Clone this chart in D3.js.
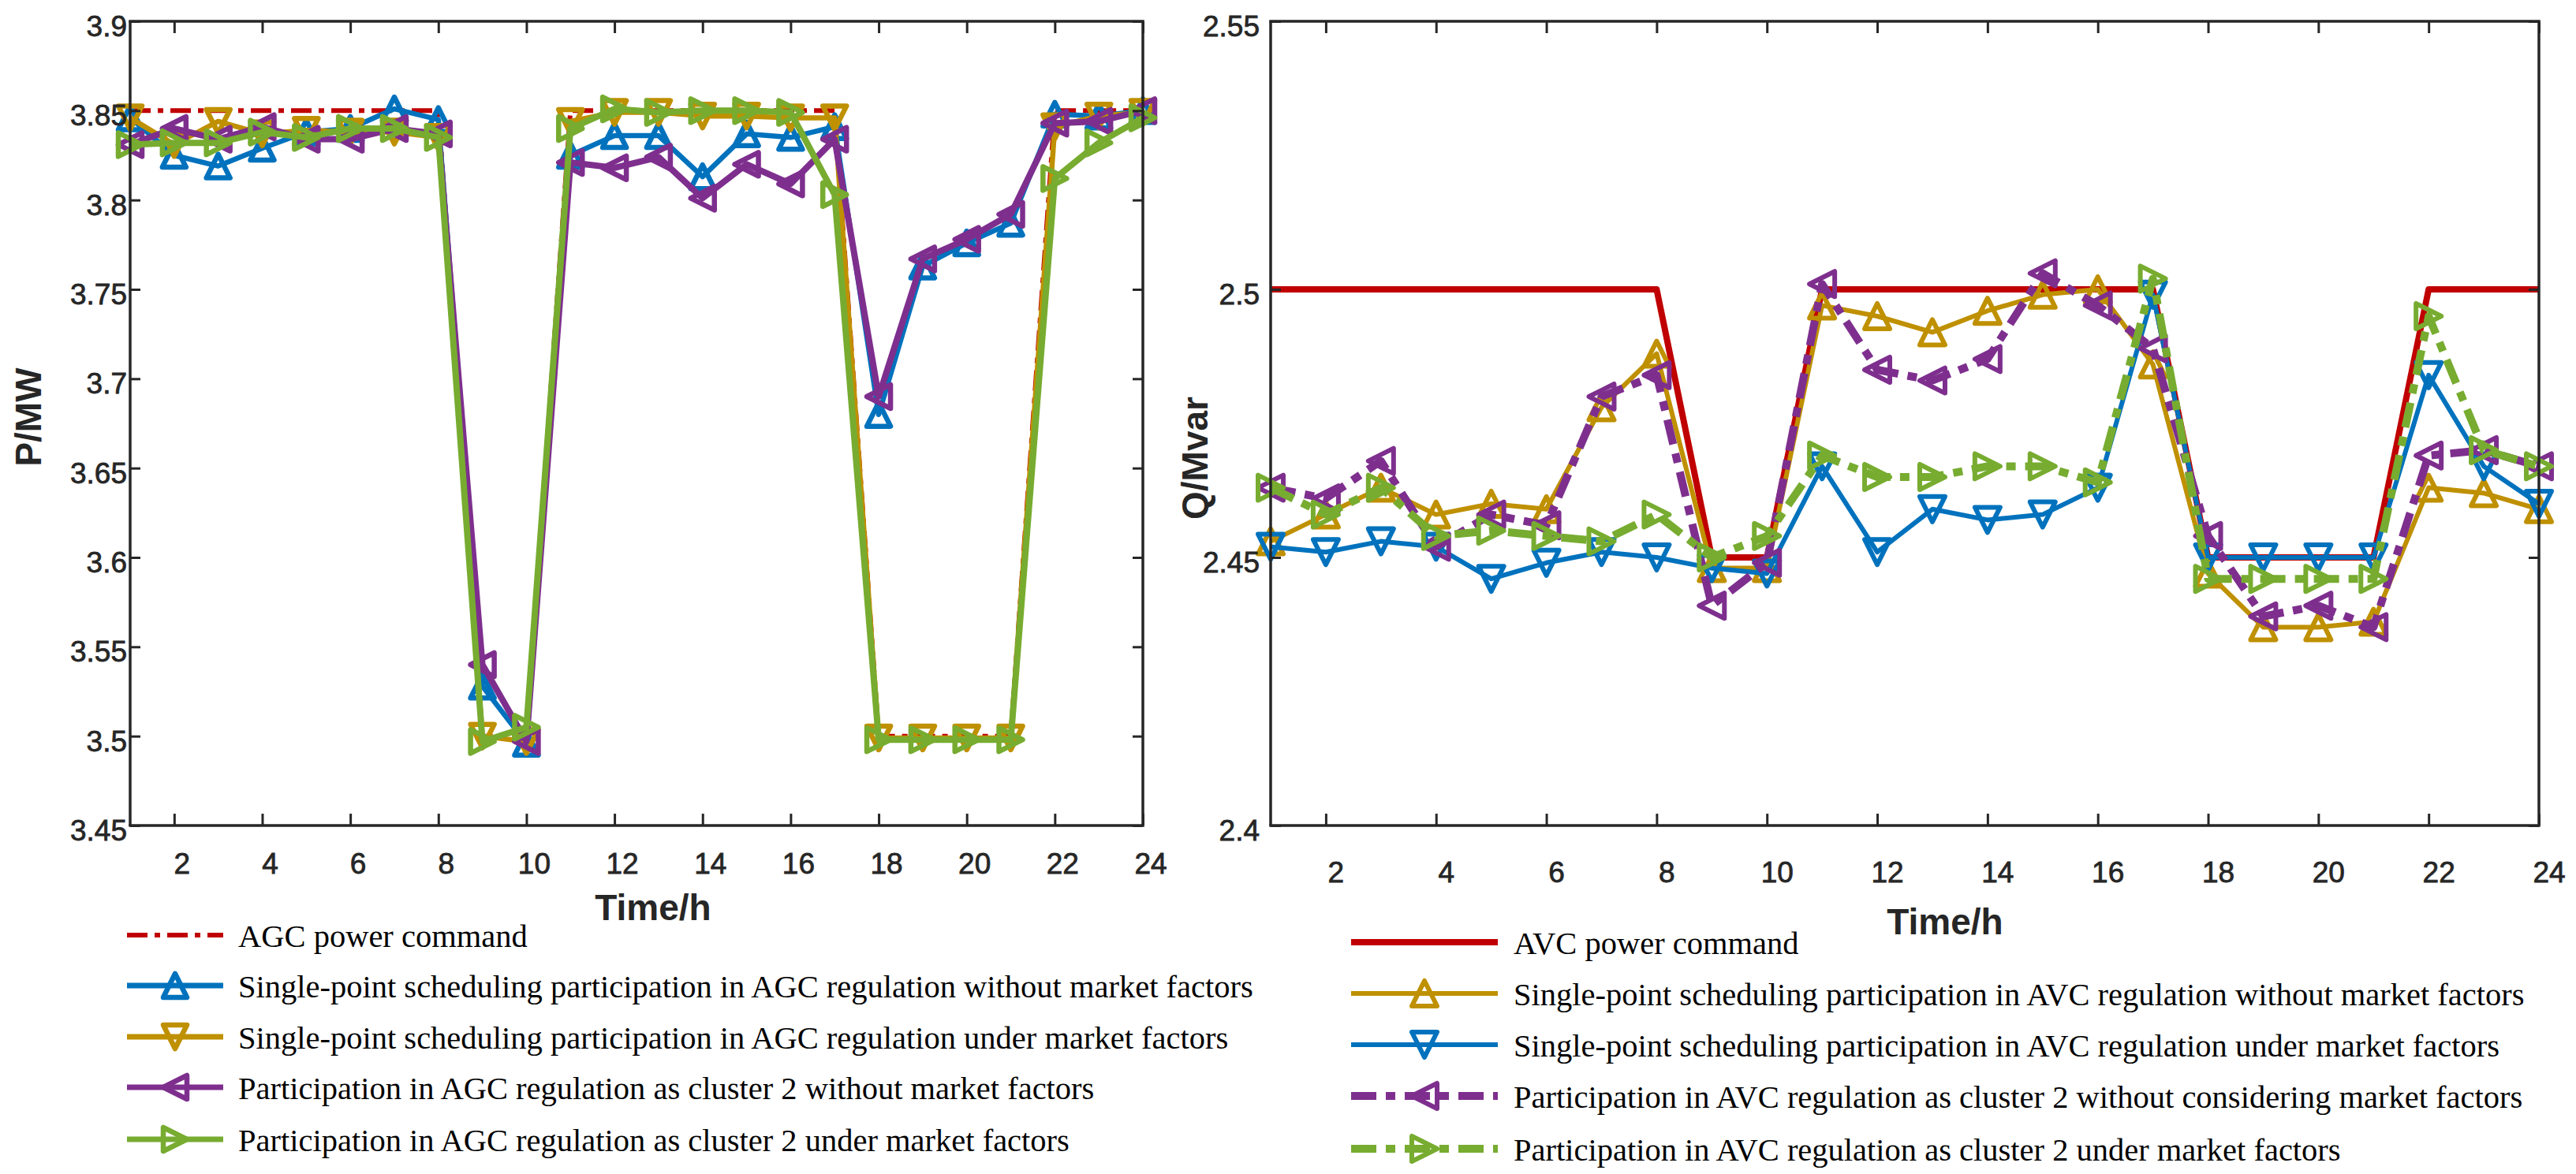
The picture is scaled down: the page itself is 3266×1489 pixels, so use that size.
<!DOCTYPE html>
<html>
<head>
<meta charset="utf-8">
<script src="https://cdn.jsdelivr.net/npm/d3@7"></script>
<style>
  html, body { margin: 0; padding: 0; background: #fff; }
  svg { display: block; }
</style>
</head>
<body>
<svg id="chart" width="3266" height="1489"></svg>
<script>
// ---------------- DATA ----------------
const hours = [1,2,3,4,5,6,7,8,9,10,11,12,13,14,15,16,17,18,19,20,21,22,23,24];
const xTicks = [2,4,6,8,10,12,14,16,18,20,22,24];

const pTicks = [3.45,3.5,3.55,3.6,3.65,3.7,3.75,3.8,3.85,3.9];
const pTickLabels = ["3.45","3.5","3.55","3.6","3.65","3.7","3.75","3.8","3.85","3.9"];
const qTicks = [2.4,2.45,2.5,2.55];
const qTickLabels = ["2.4","2.45","2.5","2.55"];

// Left chart (P/MW)
const agcCommand = [3.85,3.85,3.85,3.85,3.85,3.85,3.85,3.85,3.5,3.5,3.85,3.85,3.85,3.85,3.85,3.85,3.85,3.5,3.5,3.5,3.5,3.85,3.85,3.85];
const agcSingleNoMarket = [3.846,3.825,3.819,3.829,3.838,3.840,3.851,3.845,3.528,3.496,3.825,3.836,3.836,3.813,3.837,3.835,3.841,3.680,3.763,3.776,3.787,3.848,3.847,3.850];
const agcSingleMarket = [3.846,3.831,3.844,3.837,3.839,3.838,3.838,3.835,3.500,3.497,3.844,3.849,3.849,3.847,3.847,3.846,3.846,3.499,3.499,3.499,3.499,3.841,3.847,3.849];
const agcClusterNoMarket = [3.831,3.840,3.834,3.841,3.834,3.834,3.840,3.837,3.540,3.497,3.821,3.818,3.824,3.801,3.820,3.809,3.834,3.690,3.767,3.778,3.792,3.843,3.844,3.850];
const agcClusterMarket = [3.831,3.832,3.832,3.838,3.835,3.840,3.840,3.835,3.497,3.505,3.840,3.851,3.849,3.850,3.850,3.849,3.803,3.498,3.498,3.498,3.498,3.812,3.832,3.846];

// Right chart (Q/Mvar)
const avcCommand = [2.5,2.5,2.5,2.5,2.5,2.5,2.5,2.5,2.45,2.45,2.5,2.5,2.5,2.5,2.5,2.5,2.5,2.45,2.45,2.45,2.45,2.5,2.5,2.5];
const avcSingleNoMarket = [2.453,2.458,2.463,2.458,2.460,2.459,2.478,2.488,2.448,2.448,2.497,2.495,2.492,2.496,2.499,2.500,2.486,2.447,2.437,2.437,2.438,2.463,2.462,2.459];
const avcSingleMarket = [2.452,2.451,2.453,2.452,2.446,2.449,2.451,2.450,2.448,2.447,2.467,2.451,2.459,2.457,2.458,2.463,2.499,2.450,2.450,2.450,2.450,2.484,2.467,2.460];
const avcClusterNoMarket = [2.463,2.461,2.468,2.452,2.458,2.456,2.480,2.484,2.441,2.449,2.501,2.485,2.483,2.487,2.503,2.497,2.489,2.454,2.439,2.441,2.437,2.469,2.470,2.467];
const avcClusterMarket = [2.463,2.458,2.463,2.454,2.455,2.454,2.453,2.458,2.450,2.454,2.469,2.465,2.465,2.467,2.467,2.464,2.502,2.446,2.446,2.446,2.446,2.495,2.470,2.467];

const leftNames = [
  "AGC power command",
  "Single-point scheduling participation in AGC regulation without market factors",
  "Single-point scheduling participation in AGC regulation under market factors",
  "Participation in AGC regulation as cluster 2 without market factors",
  "Participation in AGC regulation as cluster 2 under market factors"
];
const rightNames = [
  "AVC power command",
  "Single-point scheduling participation in AVC regulation without market factors",
  "Single-point scheduling participation in AVC regulation under market factors",
  "Participation in AVC regulation as cluster 2 without considering market factors",
  "Participation in AVC regulation as cluster 2 under market factors"
];

// ---------------- STYLE ----------------
const RED = "#C00000", BLUE = "#0072BD", GOLD = "#BF9000", PURPLE = "#7E2F8E", GREEN = "#77AC30";
const AX = "#262626";

const svg = d3.select("#chart");

function markerPath(type, s) {
  const w = s, h = s;
  switch (type) {
    case "up":    return `M0,${-h}L${w},${h}L${-w},${h}Z`;
    case "down":  return `M0,${h}L${w},${-h}L${-w},${-h}Z`;
    case "left":  return `M${-h},0L${h},${-w}L${h},${w}Z`;
    case "right": return `M${h},0L${-h},${-w}L${-h},${w}Z`;
  }
  return "";
}

function drawPanel(cfg) {
  const x = d3.scaleLinear().domain([1, 24]).range([cfg.x0, cfg.x1]);
  const y = d3.scaleLinear().domain(cfg.yDomain).range([cfg.yBot, cfg.yTop]);
  const g = svg.append("g");

  const line = d3.line().x((d, i) => x(hours[i])).y(d => y(d));
  cfg.series.forEach(s => {
    g.append("path")
      .datum(s.values)
      .attr("d", line)
      .attr("fill", "none")
      .attr("stroke", s.color)
      .attr("stroke-width", s.lw)
      .attr("stroke-linejoin", "round")
      .attr("stroke-dasharray", s.dash || null);
    if (s.marker) {
      g.selectAll(null).data(s.values).enter().append("path")
        .attr("transform", (d, i) => `translate(${x(hours[i])},${y(d)})`)
        .attr("d", markerPath(s.marker, cfg.ms))
        .attr("fill", "none")
        .attr("stroke", s.color)
        .attr("stroke-width", cfg.mlw)
        .attr("stroke-linejoin", "round");
    }
  });

  // axes (box)
  const axG = svg.append("g");
  const bottom = axG.append("g").attr("transform", `translate(0,${cfg.yBot})`)
    .call(d3.axisBottom(x).tickValues(xTicks).tickSize(-15).tickFormat(""));
  const top = axG.append("g").attr("transform", `translate(0,${cfg.yTop})`)
    .call(d3.axisTop(x).tickValues(xTicks).tickSize(-15).tickFormat(""));
  const left = axG.append("g").attr("transform", `translate(${cfg.x0},0)`)
    .call(d3.axisLeft(y).tickValues(cfg.yTicks).tickSize(-13).tickFormat(""));
  const right = axG.append("g").attr("transform", `translate(${cfg.x1},0)`)
    .call(d3.axisRight(y).tickValues(cfg.yTicks).tickSize(-13).tickFormat(""));
  [bottom, top, left, right].forEach(a => {
    a.select(".domain").attr("stroke", AX).attr("stroke-width", 3.5);
    a.selectAll(".tick line").attr("stroke", AX).attr("stroke-width", 3);
  });
  [bottom, top].forEach(a => a.select(".domain").attr("d", `M${cfg.x0 - 1.75},0H${cfg.x1 + 1.75}`));
  [left, right].forEach(a => a.select(".domain").attr("d", `M0,${cfg.yBot}V${cfg.yTop}`));

  // tick labels
  axG.selectAll(null).data(xTicks).enter().append("text")
    .attr("x", d => x(d) + cfg.xLabDx)
    .attr("y", cfg.xLabBase)
    .attr("text-anchor", "middle")
    .attr("font-family", "'Liberation Sans', Arial, sans-serif")
    .attr("font-size", 37)
    .attr("fill", AX).attr("stroke", AX).attr("stroke-width", 0.8)
    .text(d => d);
  axG.selectAll(null).data(cfg.yTicks).enter().append("text")
    .attr("x", cfg.x0 - cfg.yLabGap)
    .attr("y", d => y(d) + 19)
    .attr("text-anchor", "end")
    .attr("font-family", "'Liberation Sans', Arial, sans-serif")
    .attr("font-size", 37)
    .attr("fill", AX).attr("stroke", AX).attr("stroke-width", 0.8)
    .text((d, i) => cfg.yTickLabels[i]);

  // axis titles
  axG.append("text")
    .attr("x", cfg.xTitleX).attr("y", cfg.xTitleY)
    .attr("text-anchor", "middle")
    .attr("font-family", "'Liberation Sans', Arial, sans-serif")
    .attr("font-weight", "bold").attr("font-size", 46)
    .attr("fill", AX)
    .text("Time/h");
  axG.append("text")
    .attr("transform", `translate(${cfg.yTitleX},${cfg.yTitleY}) rotate(-90)`)
    .attr("text-anchor", "middle")
    .attr("font-family", "'Liberation Sans', Arial, sans-serif")
    .attr("font-weight", "bold").attr("font-size", 46)
    .attr("fill", AX)
    .text(cfg.yTitle);

  // legend
  const lg = svg.append("g");
  cfg.series.forEach((s, i) => {
    const ry = cfg.legRows[i];
    lg.append("line")
      .attr("x1", cfg.legX0).attr("x2", cfg.legX1)
      .attr("y1", ry).attr("y2", ry)
      .attr("stroke", s.color).attr("stroke-width", s.legLw || s.lw)
      .attr("stroke-dasharray", s.dash || null);
    if (s.marker) {
      lg.append("path")
        .attr("transform", `translate(${(cfg.legX0 + cfg.legX1) / 2},${ry})`)
        .attr("d", markerPath(s.marker, cfg.ms))
        .attr("fill", "none").attr("stroke", s.color).attr("stroke-width", cfg.mlw)
        .attr("stroke-linejoin", "round");
    }
    lg.append("text")
      .attr("x", cfg.legTextX).attr("y", ry + 15)
      .attr("font-family", "'Liberation Serif', 'Times New Roman', serif")
      .attr("font-size", 40.5)
      .attr("fill", "#000")
      .text(cfg.names[i]);
  });
}

drawPanel({
  x0: 165, x1: 1449, yTop: 27, yBot: 1047,
  yDomain: [3.45, 3.9], yTicks: pTicks, yTickLabels: pTickLabels,
  xLabDx: 10, xLabBase: 1108, yLabGap: 4,
  xTitleX: 828, xTitleY: 1167,
  yTitle: "P/MW", yTitleX: 52, yTitleY: 529,
  ms: 15, mlw: 6.5,
  series: [
    { values: agcCommand, color: RED, lw: 6, dash: "26,9,7,9" },
    { values: agcSingleNoMarket, color: BLUE, lw: 6.5, legLw: 7, marker: "up" },
    { values: agcSingleMarket, color: GOLD, lw: 6.5, legLw: 7, marker: "down" },
    { values: agcClusterNoMarket, color: PURPLE, lw: 8, legLw: 7, marker: "left" },
    { values: agcClusterMarket, color: GREEN, lw: 8, legLw: 7, marker: "right" }
  ],
  names: leftNames,
  legRows: [1186, 1250, 1315, 1379, 1445],
  legX0: 161, legX1: 283, legTextX: 302
});

drawPanel({
  x0: 1611, x1: 3219, yTop: 27, yBot: 1047,
  yDomain: [2.4, 2.55], yTicks: qTicks, yTickLabels: qTickLabels,
  xLabDx: 13, xLabBase: 1119, yLabGap: 14,
  xTitleX: 2466, xTitleY: 1185,
  yTitle: "Q/Mvar", yTitleX: 1531, yTitleY: 581,
  ms: 16, mlw: 6,
  series: [
    { values: avcCommand, color: RED, lw: 8 },
    { values: avcSingleNoMarket, color: GOLD, lw: 6, marker: "up" },
    { values: avcSingleMarket, color: BLUE, lw: 6, marker: "down" },
    { values: avcClusterNoMarket, color: PURPLE, lw: 10, dash: "32,12,12,12", marker: "left" },
    { values: avcClusterMarket, color: GREEN, lw: 10, dash: "32,12,12,12", marker: "right" }
  ],
  names: rightNames,
  legRows: [1195, 1260, 1325, 1390, 1457],
  legX0: 1713, legX1: 1899, legTextX: 1919
});
</script>
</body>
</html>
